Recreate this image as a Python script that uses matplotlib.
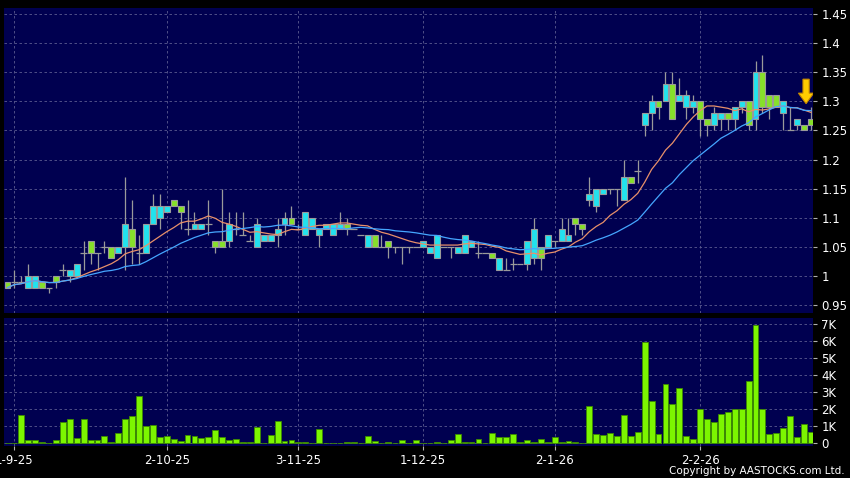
import matplotlib
matplotlib.use("Agg")
import matplotlib.pyplot as plt
from matplotlib.patches import FancyArrow
import numpy as np
import pandas as pd

# Daily OHLC (HKD) and volume (thousand shares)
opens = [0.99, 0.99, 0.99, 0.98, 0.98, 0.99, 0.98, 1.00, 1.01, 1.00,
         1.00, 1.04, 1.06, 1.04, 1.05, 1.05, 1.04, 1.05, 1.08, 1.04,
         1.04, 1.09, 1.10, 1.11, 1.13, 1.12, 1.08, 1.08, 1.08, 1.09,
         1.06, 1.06, 1.06, 1.08, 1.07, 1.06, 1.05, 1.06, 1.06, 1.07,
         1.09, 1.10, 1.08, 1.07, 1.08, 1.07, 1.08, 1.07, 1.08, 1.09,
         1.08, 1.07, 1.05, 1.07, 1.05, 1.06, 1.05, 1.05, 1.05, 1.05,
         1.05, 1.04, 1.03, 1.05, 1.05, 1.04, 1.04, 1.05, 1.04, 1.04,
         1.04, 1.01, 1.01, 1.02, 1.02, 1.02, 1.03, 1.05, 1.05, 1.06,
         1.06, 1.06, 1.10, 1.09, 1.13, 1.12, 1.14, 1.15, 1.15, 1.13,
         1.17, 1.18, 1.26, 1.28, 1.30, 1.30, 1.33, 1.30, 1.29, 1.29,
         1.30, 1.27, 1.26, 1.27, 1.28, 1.27, 1.29, 1.30, 1.27, 1.35,
         1.31, 1.31, 1.28, 1.25, 1.26, 1.26, 1.27]
highs = [0.99, 1.01, 1.00, 1.02, 1.00, 0.99, 0.98, 1.00, 1.02, 1.01,
         1.02, 1.06, 1.06, 1.04, 1.06, 1.05, 1.05, 1.17, 1.13, 1.07,
         1.09, 1.14, 1.14, 1.12, 1.13, 1.12, 1.13, 1.11, 1.09, 1.13,
         1.06, 1.15, 1.11, 1.11, 1.11, 1.07, 1.10, 1.07, 1.07, 1.10,
         1.11, 1.12, 1.09, 1.11, 1.10, 1.08, 1.09, 1.09, 1.11, 1.10,
         1.08, 1.07, 1.07, 1.07, 1.07, 1.06, 1.05, 1.05, 1.05, 1.05,
         1.06, 1.05, 1.07, 1.05, 1.05, 1.05, 1.07, 1.06, 1.06, 1.04,
         1.04, 1.03, 1.03, 1.03, 1.02, 1.06, 1.10, 1.05, 1.07, 1.06,
         1.10, 1.10, 1.10, 1.09, 1.17, 1.15, 1.15, 1.15, 1.15, 1.20,
         1.17, 1.20, 1.28, 1.31, 1.30, 1.35, 1.35, 1.34, 1.32, 1.31,
         1.30, 1.27, 1.29, 1.28, 1.28, 1.29, 1.30, 1.30, 1.37, 1.38,
         1.31, 1.31, 1.30, 1.29, 1.27, 1.26, 1.29]
lows = [0.98, 0.98, 0.99, 0.98, 0.98, 0.98, 0.97, 0.98, 1.00, 0.99,
        1.00, 1.01, 1.02, 1.01, 1.04, 1.03, 1.04, 1.01, 1.02, 1.02,
        1.04, 1.09, 1.08, 1.11, 1.12, 1.08, 1.07, 1.08, 1.08, 1.07,
        1.04, 1.05, 1.05, 1.07, 1.07, 1.06, 1.05, 1.06, 1.06, 1.05,
        1.07, 1.09, 1.08, 1.07, 1.08, 1.05, 1.08, 1.07, 1.08, 1.07,
        1.08, 1.07, 1.05, 1.05, 1.05, 1.03, 1.04, 1.02, 1.04, 1.05,
        1.05, 1.04, 1.03, 1.05, 1.03, 1.04, 1.04, 1.05, 1.03, 1.04,
        1.03, 1.01, 1.01, 1.01, 1.02, 1.01, 1.02, 1.01, 1.05, 1.05,
        1.06, 1.06, 1.07, 1.07, 1.12, 1.11, 1.14, 1.14, 1.12, 1.13,
        1.16, 1.16, 1.24, 1.25, 1.27, 1.30, 1.27, 1.30, 1.27, 1.28,
        1.24, 1.24, 1.25, 1.25, 1.25, 1.25, 1.28, 1.25, 1.25, 1.28,
        1.27, 1.29, 1.25, 1.25, 1.25, 1.25, 1.25]
closes = [0.98, 0.99, 0.99, 1.00, 1.00, 0.98, 0.98, 0.99, 1.01, 1.01,
          1.02, 1.04, 1.04, 1.04, 1.05, 1.03, 1.05, 1.09, 1.05, 1.04,
          1.09, 1.12, 1.12, 1.12, 1.12, 1.11, 1.08, 1.09, 1.09, 1.09,
          1.05, 1.05, 1.09, 1.08, 1.07, 1.06, 1.09, 1.07, 1.07, 1.08,
          1.10, 1.09, 1.08, 1.11, 1.10, 1.08, 1.09, 1.09, 1.09, 1.08,
          1.08, 1.07, 1.07, 1.05, 1.05, 1.05, 1.05, 1.05, 1.05, 1.05,
          1.06, 1.05, 1.07, 1.05, 1.05, 1.05, 1.07, 1.06, 1.04, 1.04,
          1.03, 1.03, 1.01, 1.02, 1.02, 1.06, 1.08, 1.03, 1.07, 1.06,
          1.08, 1.07, 1.09, 1.08, 1.14, 1.15, 1.15, 1.15, 1.15, 1.17,
          1.16, 1.18, 1.28, 1.30, 1.29, 1.33, 1.27, 1.31, 1.31, 1.30,
          1.27, 1.26, 1.28, 1.28, 1.27, 1.29, 1.30, 1.26, 1.35, 1.29,
          1.29, 1.29, 1.30, 1.25, 1.27, 1.25, 1.26]
volume_k = [0.05, 0.05, 1.65, 0.2, 0.18, 0.08, 0.02, 0.18, 1.26, 1.42,
            0.31, 1.4, 0.18, 0.21, 0.41, 0.06, 0.62, 1.42, 1.63, 2.8,
            0.99, 1.05, 0.35, 0.43, 0.25, 0.14, 0.5, 0.41, 0.29, 0.37,
            0.78, 0.37, 0.2, 0.25, 0.06, 0.06, 0.95, 0.02, 0.49, 1.32,
            0.14, 0.2, 0.06, 0.06, 0.02, 0.84, 0.02, 0.02, 0.04, 0.08,
            0.08, 0.04, 0.41, 0.14, 0.02, 0.06, 0.02, 0.2, 0.02, 0.18,
            0.04, 0.04, 0.1, 0.02, 0.2, 0.55, 0.1, 0.1, 0.25, 0.02,
            0.63, 0.37, 0.35, 0.53, 0.1, 0.2, 0.08, 0.23, 0.06, 0.39,
            0.1, 0.14, 0.06, 0.02, 2.17, 0.55, 0.47, 0.6, 0.41, 1.64,
            0.45, 0.65, 5.93, 2.49, 0.53, 3.46, 2.31, 3.23, 0.41, 0.25,
            2.0, 1.41, 1.25, 1.7, 1.82, 2.0, 2.0, 3.62, 6.95, 2.0,
            0.55, 0.63, 0.9, 1.6, 0.35, 1.12, 0.65]

tick_idx = [1, 23, 42, 60, 79, 100]
tick_lbl = ['1-9-25', '2-10-25', '3-11-25', '1-12-25', '2-1-26', '2-2-26']
price_ticks = [0.95, 1.0, 1.05, 1.1, 1.15, 1.2, 1.25, 1.3, 1.35, 1.4, 1.45]
vol_ticks = [0, 1, 2, 3, 4, 5, 6, 7]

df = pd.DataFrame({'o': opens, 'h': highs, 'l': lows, 'c': closes, 'v': volume_k})
x = np.arange(len(df))
ma10 = df['c'].rolling(10, min_periods=1).mean()
ma20 = df['c'].rolling(20, min_periods=1).mean()

BG = '#000050'
GRID = '#5c5c90'
UP = '#22e2ee'
DOWN = '#86e02a'
EDGE = '#9a9a9a'

fig = plt.figure(figsize=(8.5, 4.78), dpi=100, facecolor='black')
ax1 = fig.add_axes([4/850, 165/478, 809/850, 305/478], facecolor=BG)
ax2 = fig.add_axes([4/850, 32/478, 809/850, 128/478], facecolor=BG, sharex=ax1)

# candles
up = df['c'] > df['o']
down = df['c'] < df['o']
flat = df['c'] == df['o']
ax1.vlines(x, df['l'], df['h'], color=EDGE, lw=0.9, zorder=2)
ax1.bar(x[up], (df['c'] - df['o'])[up], bottom=df['o'][up], width=0.85,
        color=UP, edgecolor=EDGE, linewidth=0.8, zorder=3)
ax1.bar(x[down], (df['o'] - df['c'])[down], bottom=df['c'][down], width=0.85,
        color=DOWN, edgecolor=EDGE, linewidth=0.8, zorder=3)
ax1.hlines(df['c'][flat], x[flat] - 0.5, x[flat] + 0.5, color=EDGE, lw=0.9, zorder=3)

ax1.plot(x, ma10, color='#e8906a', lw=0.9, zorder=4)
ax1.plot(x, ma20, color='#45a6ff', lw=0.9, zorder=4)

# latest-day marker
ax1.add_patch(FancyArrow(115.3, 1.338, 0, -0.042, width=0.9, head_width=2.2,
                         head_length=0.018, length_includes_head=True,
                         facecolor='#ffcc00', edgecolor='#c88a00', lw=0.8, zorder=5))

# volume
ax2.bar(x, df['v'], width=0.85, color='#7cf500', edgecolor='#3c8a00', linewidth=0.6, zorder=3)

ax1.set_xlim(-0.5, 116.3)
ax1.set_ylim(0.9363, 1.4603)
ax2.set_ylim(-0.15, 7.33)

for ax in (ax1, ax2):
    ax.yaxis.tick_right()
    ax.grid(True, color=GRID, linestyle=(0, (3, 3)), lw=0.6, zorder=0)
    for s in ax.spines.values():
        s.set_visible(False)
    ax.tick_params(colors='#b0b0b0', labelcolor='white', labelsize=8.5, length=3, pad=3)

ax1.set_yticks(price_ticks)
ax1.set_yticklabels([f"{v:g}" for v in price_ticks])
ax2.set_yticks(vol_ticks)
ax2.set_yticklabels(['0'] + [f"{v}K" for v in vol_ticks[1:]])
ax2.set_xticks(tick_idx)
ax2.set_xticklabels(tick_lbl)
ax1.tick_params(axis='x', length=0, labelbottom=False)

fig.text(845/850, 7/478, 'Copyright by AASTOCKS.com Ltd.', color='white',
         fontsize=7.5, ha='right', va='center')

fig.savefig('out.png', dpi=100, facecolor='black')
